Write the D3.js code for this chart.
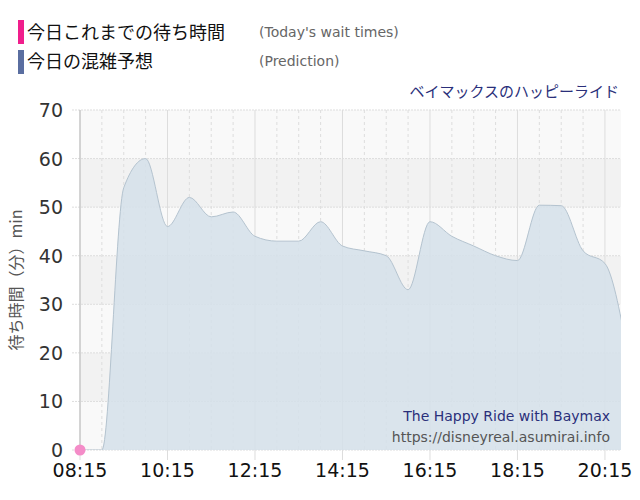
<!DOCTYPE html>
<html><head><meta charset="utf-8">
<script src="https://cdn.jsdelivr.net/npm/d3@7"></script>
<style>body{margin:0;background:#fff;font-family:"Noto Sans CJK JP","DejaVu Sans",sans-serif}</style>
</head><body>
<svg id="c" width="640" height="500"></svg>
<script>
// prediction every 30 min, minutes after midnight
var predTimes = [495,525,555,585,615,645,675,705,735,765,795,825,855,885,915,945,975,1005,1035,1065,1095,1125,1155,1185,1215,1245];
var predValues = [0,0,54,60,46,52,48,49,44,43,43,47,42,41,40,33,47,44,42,40,39,50.4,50.3,41,38.4,21];
var waitTimes = [495];
var waitValues = [0];
var xTicks = [495,615,735,855,975,1095,1215];
var yTicks = [0,10,20,30,40,50,60,70];

var svg = d3.select("#c");
var L = 80, R = 621, T = 110, B = 450;
var x = d3.scaleLinear().domain([495, 1237]).range([L, R]);
var y = d3.scaleLinear().domain([0, 70]).range([B, T]);

// bands
for (var i = 0; i < 7; i++) {
  svg.append("rect").attr("x", L).attr("width", R - L)
    .attr("y", y(i * 10 + 10)).attr("height", y(i * 10) - y(i * 10 + 10))
    .attr("fill", i % 2 ? "#f2f2f2" : "#f9f9f9");
}
// grid
for (var t = 495; t <= 1237; t += 30) {
  var solid = (t - 495) % 120 == 0;
  svg.append("line").attr("x1", x(t)).attr("x2", x(t)).attr("y1", T).attr("y2", B + (solid ? 10 : 0))
    .attr("stroke", solid ? "#ddd" : "#ddd").attr("stroke-dasharray", solid ? null : "3,3");
}
yTicks.forEach(function(v){
  svg.append("line").attr("x1", L - 8).attr("x2", R).attr("y1", y(v)).attr("y2", y(v))
    .attr("stroke", "#ddd").attr("stroke-dasharray", "2,1");
});

svg.append("defs").append("clipPath").attr("id","clip").append("rect")
  .attr("x", L).attr("y", T - 5).attr("width", R - L).attr("height", B - T + 5);

var pts = predTimes.map(function(t, i){ return [t, predValues[i]]; });
var area = d3.area().x(function(d){return x(d[0]);}).y0(y(0)).y1(function(d){return y(d[1]);}).curve(d3.curveMonotoneX);
var line = d3.line().x(function(d){return x(d[0]);}).y(function(d){return y(d[1]);}).curve(d3.curveMonotoneX);
var g = svg.append("g").attr("clip-path", "url(#clip)");
g.append("path").attr("d", area(pts)).attr("fill", "#d5e1ea").attr("fill-opacity", 0.85);
g.append("path").attr("d", line(pts)).attr("fill", "none").attr("stroke", "#b4c3cf").attr("stroke-width", 1);

svg.append("line").attr("x1", L).attr("x2", L).attr("y1", T).attr("y2", B).attr("stroke", "#bbb");

waitTimes.forEach(function(t, i){
  svg.append("circle").attr("cx", x(t)).attr("cy", y(waitValues[i])).attr("r", 5.5)
    .attr("fill", "#f48cc8");
});

// axes labels
yTicks.forEach(function(v){
  svg.append("text").attr("x", 63).attr("y", y(v) + 7).attr("text-anchor", "end")
    .attr("font-size", 19).attr("fill", "#333").attr("font-family", "DejaVu Sans").text(v);
});
xTicks.forEach(function(t){
  svg.append("text").attr("x", x(t)).attr("y", 477).attr("text-anchor", "middle")
    .attr("font-size", 19).attr("fill", "#111").attr("font-family", "DejaVu Sans")
    .text(d3.format("02")(Math.floor(t / 60)) + ":" + d3.format("02")(t % 60));
});
svg.append("text").attr("transform", "translate(22,280) rotate(-90)").attr("text-anchor", "middle")
  .attr("font-size", 16).attr("fill", "#555").text("待ち時間（分）min");

// legend
svg.append("rect").attr("x", 18).attr("y", 20).attr("width", 6).attr("height", 24).attr("fill", "#f01e8c");
svg.append("rect").attr("x", 18).attr("y", 50).attr("width", 6).attr("height", 24).attr("fill", "#5a6ea0");
svg.append("text").attr("x", 27).attr("y", 39).attr("font-size", 18).attr("fill", "#111").text("今日これまでの待ち時間");
svg.append("text").attr("x", 27).attr("y", 68).attr("font-size", 18).attr("fill", "#111").text("今日の混雑予想");
svg.append("text").attr("x", 259).attr("y", 37).attr("font-size", 14).attr("fill", "#666").attr("font-family","DejaVu Sans").text("(Today's wait times)");
svg.append("text").attr("x", 259).attr("y", 66).attr("font-size", 14).attr("fill", "#666").attr("font-family","DejaVu Sans").text("(Prediction)");
svg.append("text").attr("x", 619).attr("y", 97).attr("text-anchor", "end").attr("font-size", 15).attr("fill", "#2a2f7a").text("ベイマックスのハッピーライド");
svg.append("text").attr("x", 610).attr("y", 421).attr("text-anchor", "end").attr("font-size", 14).attr("fill", "#2a2f7a").attr("font-family","DejaVu Sans").text("The Happy Ride with Baymax");
svg.append("text").attr("x", 610).attr("y", 442).attr("text-anchor", "end").attr("font-size", 14).attr("fill", "#555").attr("font-family","DejaVu Sans").text("https://disneyreal.asumirai.info");
</script>
</body></html>
